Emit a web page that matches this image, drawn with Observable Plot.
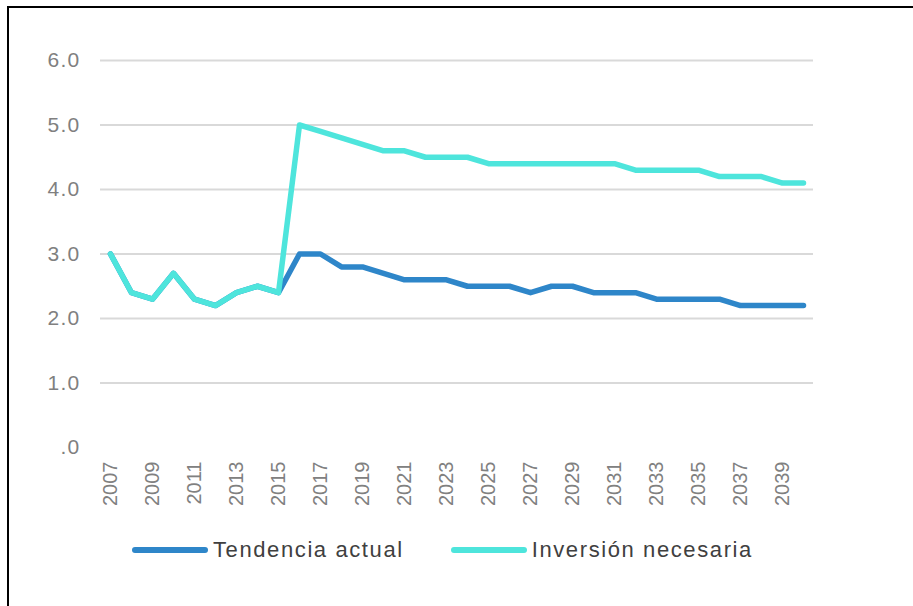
<!DOCTYPE html>
<html>
<head>
<meta charset="utf-8">
<script src="https://cdn.jsdelivr.net/npm/d3@7"></script>
<script src="https://cdn.jsdelivr.net/npm/@observablehq/plot@0.6"></script>
<style>
  html, body { margin: 0; padding: 0; background: #fff; }
  body { width: 913px; height: 606px; overflow: hidden; position: relative; font-family: "Liberation Sans", Arial, sans-serif; }
  #frame { position: absolute; left: 7px; top: 6px; width: 940px; height: 640px; border-left: 2px solid #000; border-top: 2px solid #000; box-sizing: border-box; }
  #chart { position: absolute; left: 0; top: 0; }
  #chart g[aria-label="y-axis tick label"] text { letter-spacing: 1.3px; }
  #legend { position: absolute; top: 537px; left: 132px; display: flex; align-items: center; font-size: 22px; letter-spacing: 1.6px; color: #404040; white-space: nowrap; line-height: 26px; }
  .item { display: flex; align-items: center; }
  .sw { width: 76px; height: 6px; border-radius: 3px; margin-right: 5px; }
  .item + .item { margin-left: 47px; }
</style>
</head>
<body>
<div id="frame"></div>
<div id="chart"></div>
<div id="legend"></div>
<script>
const years = [2007,2008,2009,2010,2011,2012,2013,2014,2015,2016,2017,2018,2019,2020,2021,2022,2023,2024,2025,2026,2027,2028,2029,2030,2031,2032,2033,2034,2035,2036,2037,2038,2039,2040];
const tendenciaActual = [3.0,2.4,2.3,2.7,2.3,2.2,2.4,2.5,2.4,3.0,3.0,2.8,2.8,2.7,2.6,2.6,2.6,2.5,2.5,2.5,2.4,2.5,2.5,2.4,2.4,2.4,2.3,2.3,2.3,2.3,2.2,2.2,2.2,2.2];
const inversionNecesaria = [3.0,2.4,2.3,2.7,2.3,2.2,2.4,2.5,2.4,5.0,4.9,4.8,4.7,4.6,4.6,4.5,4.5,4.5,4.4,4.4,4.4,4.4,4.4,4.4,4.4,4.3,4.3,4.3,4.3,4.2,4.2,4.2,4.1,4.1];
const seriesNames = ["Tendencia actual", "Inversión necesaria"];
const seriesColors = ["#2e86c9", "#4ee5dc"];
const xTicks = [2007,2009,2011,2013,2015,2017,2019,2021,2023,2025,2027,2029,2031,2033,2035,2037,2039];
const yTicks = [0,1,2,3,4,5,6];
const yTickLabels = [".0","1.0","2.0","3.0","4.0","5.0","6.0"];
const gridTicks = [1,2,3,4,5,6];

const rows = [];
years.forEach((yr, i) => {
  rows.push({year: yr, value: tendenciaActual[i], series: seriesNames[0]});
});
years.forEach((yr, i) => {
  rows.push({year: yr, value: inversionNecesaria[i], series: seriesNames[1]});
});

const chart = Plot.plot({
  width: 913,
  height: 520,
  marginLeft: 100,
  marginRight: 100,
  marginTop: 60,
  marginBottom: 73,
  style: {fontFamily: "'Liberation Sans', Arial, sans-serif", background: "transparent"},
  x: {domain: [2007, 2040], inset: 10, label: null},
  y: {domain: [0, 6], label: null},
  marks: [
    Plot.ruleY(gridTicks, {stroke: "#d9d9d9", strokeWidth: 2}),
    Plot.axisY({ticks: yTicks, tickSize: 0, tickPadding: 20, fontSize: 21, color: "#808080",
      tickFormat: d => yTickLabels[yTicks.indexOf(d)], label: null}),
    Plot.axisX({ticks: xTicks, tickSize: 0, tickPadding: 14, tickRotate: -90, fontSize: 20, color: "#808080",
      tickFormat: d => String(d), label: null}),
    Plot.line(rows.filter(d => d.series === seriesNames[0]), {x: "year", y: "value", stroke: seriesColors[0], strokeWidth: 5.5, strokeLinejoin: "round", strokeLinecap: "round"}),
    Plot.line(rows.filter(d => d.series === seriesNames[1]), {x: "year", y: "value", stroke: seriesColors[1], strokeWidth: 5.5, strokeLinejoin: "round", strokeLinecap: "round"})
  ]
});
document.getElementById("chart").appendChild(chart);

const legend = document.getElementById("legend");
seriesNames.forEach((name, i) => {
  const item = document.createElement("div");
  item.className = "item";
  const sw = document.createElement("span");
  sw.className = "sw";
  sw.style.background = seriesColors[i];
  const label = document.createElement("span");
  label.textContent = name;
  item.appendChild(sw);
  item.appendChild(label);
  legend.appendChild(item);
});
</script>
</body>
</html>
